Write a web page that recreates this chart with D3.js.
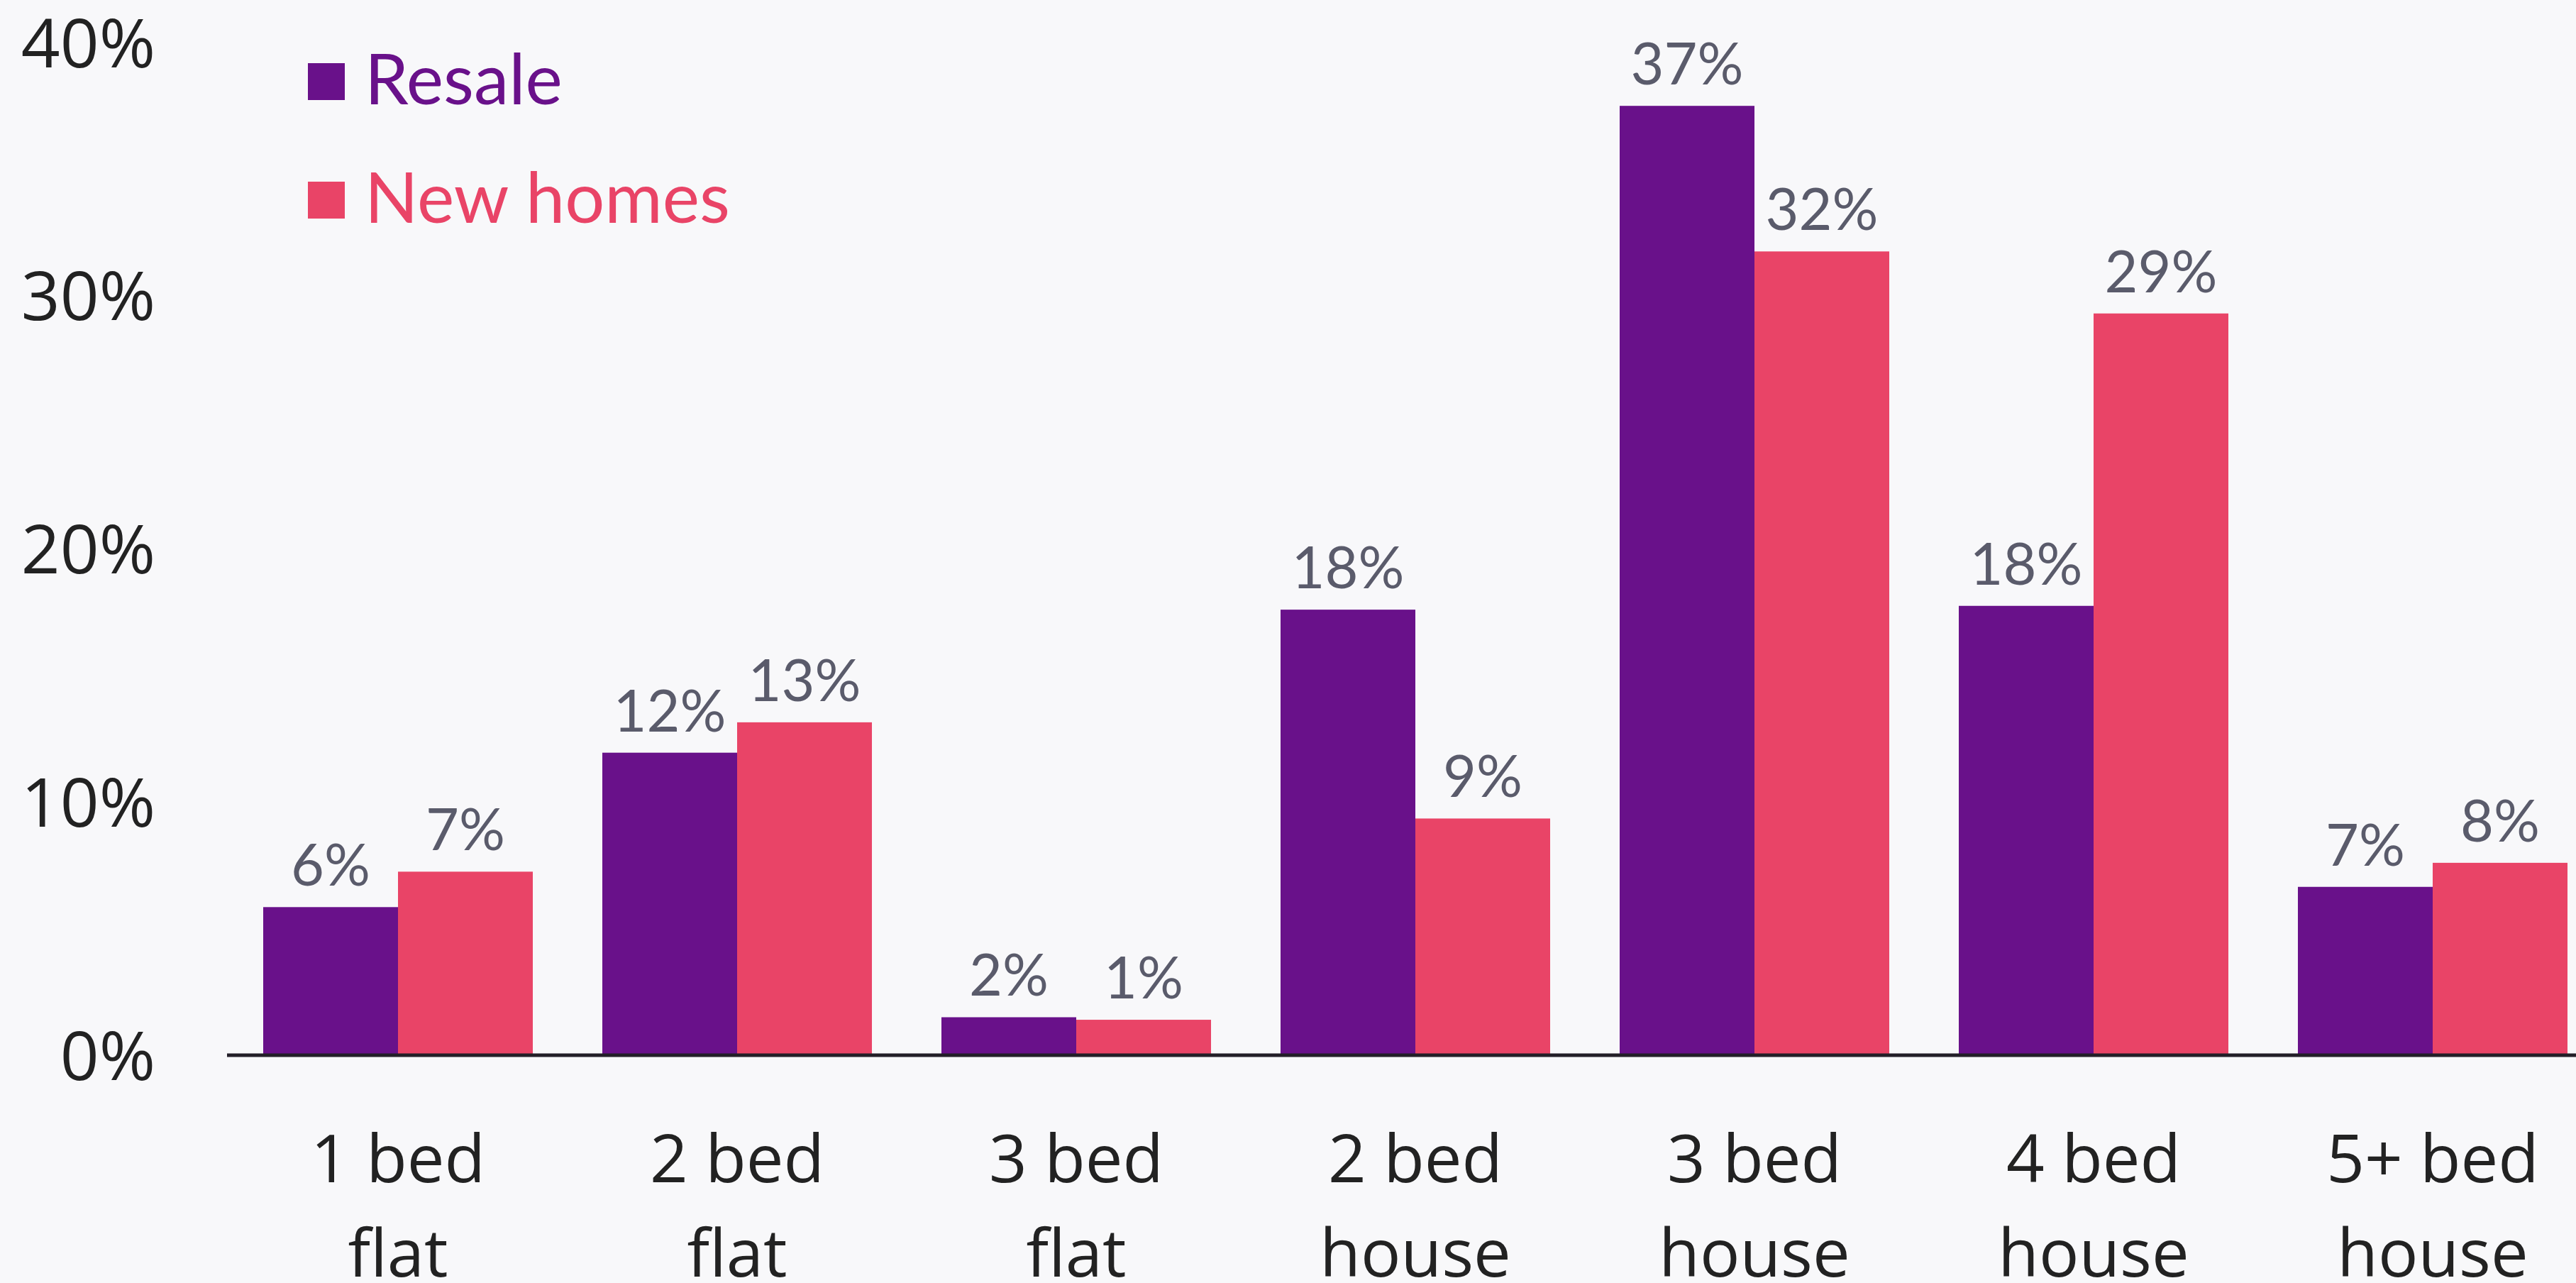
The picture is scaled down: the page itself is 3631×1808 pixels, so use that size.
<!DOCTYPE html>
<html>
<head>
<meta charset="utf-8">
<script src="https://cdn.jsdelivr.net/npm/d3@7"></script>
<style>
  html, body { margin: 0; padding: 0; background: #f8f8fa; }
  svg { display: block; }
  .tick-label { font-family: 'Open Sans', sans-serif; fill: #222; }
  .value-label { font-family: Lato, sans-serif; fill: #5a5b6b; }
  .legend-label { font-family: Lato, sans-serif; }
</style>
</head>
<body>
<div id="chart"></div>
<script>
'use strict';

// categories, two lines each
var categories = [ '1 bed flat', '2 bed flat', '3 bed flat', '2 bed house', '3 bed house', '4 bed house', '5+ bed house' ];
var categoryLines = [
  [ '1 bed', 'flat' ],
  [ '2 bed', 'flat' ],
  [ '3 bed', 'flat' ],
  [ '2 bed', 'house' ],
  [ '3 bed', 'house' ],
  [ '4 bed', 'house' ],
  [ '5+ bed', 'house' ]
];

var seriesNames = [ 'Resale', 'New homes' ];
var resaleValues = [ 5.85, 11.95, 1.5, 17.6, 37.5, 17.75, 6.65 ];
var newHomesValues = [ 7.25, 13.15, 1.4, 9.35, 31.75, 29.3, 7.6 ];
var resaleLabels = [ '6%', '12%', '2%', '18%', '37%', '18%', '7%' ];
var newHomesLabels = [ '7%', '13%', '1%', '9%', '32%', '29%', '8%' ];
var yTicks = [ 0, 10, 20, 30, 40 ];

var colors = { 'Resale': '#69118a', 'New homes': '#e94467' };

var width = 3631,
    height = 1808;

var svg = d3.select( '#chart' )
  .append( 'svg' )
    .attr( 'width', width )
    .attr( 'height', height );

svg.append( 'rect' )
  .attr( 'width', width )
  .attr( 'height', height )
  .attr( 'fill', '#f8f8fa' );

var x = d3.scaleBand()
    .domain( categories )
    .range( [ 371, 3619 ] )
    .paddingInner( 0.205 )
    .paddingOuter( 0 );

var xSeries = d3.scaleBand()
    .domain( seriesNames )
    .range( [ 0, x.bandwidth() ] );

var y = d3.scaleLinear()
    .domain( [ 0, 40 ] )
    .range( [ 1487, 60 ] );

// y tick labels, no axis line
svg.append( 'g' )
  .selectAll( 'text' )
  .data( yTicks )
  .enter()
  .append( 'text' )
    .classed( 'tick-label', true )
    .attr( 'x', 219 )
    .attr( 'y', function( d ) { return y( d ); } )
    .attr( 'dy', '0.36em' )
    .attr( 'text-anchor', 'end' )
    .style( 'font-size', '96px' )
    .text( function( d ) { return d + '%'; } );

// bars
var rows = categories.map( function( c, i ) {
  return [
    { cat: c, set: 'Resale', value: resaleValues[i], label: resaleLabels[i] },
    { cat: c, set: 'New homes', value: newHomesValues[i], label: newHomesLabels[i] }
  ];
} );

var groups = svg.append( 'g' )
  .selectAll( 'g' )
  .data( rows )
  .enter()
  .append( 'g' )
    .attr( 'transform', function( d ) { return 'translate(' + x( d[0].cat ) + ',0)'; } );

groups.selectAll( 'rect' )
  .data( function( d ) { return d; } )
  .enter()
  .append( 'rect' )
    .attr( 'x', function( d ) { return xSeries( d.set ); } )
    .attr( 'width', xSeries.bandwidth() )
    .attr( 'y', function( d ) { return y( d.value ); } )
    .attr( 'height', function( d ) { return y( 0 ) - y( d.value ); } )
    .attr( 'fill', function( d ) { return colors[d.set]; } );

groups.selectAll( 'text' )
  .data( function( d ) { return d; } )
  .enter()
  .append( 'text' )
    .classed( 'value-label', true )
    .attr( 'x', function( d ) { return xSeries( d.set ) + xSeries.bandwidth() / 2; } )
    .attr( 'y', function( d ) { return y( d.value ) - 30; } )
    .attr( 'text-anchor', 'middle' )
    .style( 'font-size', '81px' )
    .text( function( d ) { return d.label; } );

// x axis baseline
var xAxis = svg.append( 'g' )
  .attr( 'transform', 'translate(0,' + y( 0 ) + ')' )
  .call( d3.axisBottom( x ).tickSize( 0 ).tickFormat( '' ) );

xAxis.select( '.domain' )
  .attr( 'd', 'M320,0H' + width )
  .attr( 'stroke', '#231f28' )
  .attr( 'stroke-width', 5 );

// category labels on two lines
xAxis.selectAll( '.tick' )
  .append( 'text' )
    .classed( 'tick-label', true )
    .attr( 'text-anchor', 'middle' )
    .style( 'font-size', '94px' )
    .each( function( d ) {
      var lines = categoryLines[categories.indexOf( d )];
      var t = d3.select( this );
      lines.forEach( function( line, i ) {
        t.append( 'tspan' )
          .attr( 'x', 0 )
          .attr( 'y', 179 + i * 133 )
          .text( line );
      } );
    } );

// legend
var legend = svg.append( 'g' )
  .selectAll( 'g' )
  .data( seriesNames )
  .enter()
  .append( 'g' )
    .attr( 'transform', function( d, i ) { return 'translate(434,' + ( 89 + i * 167 ) + ')'; } );

legend.append( 'rect' )
  .attr( 'width', 52 )
  .attr( 'height', 52 )
  .attr( 'fill', function( d ) { return colors[d]; } );

legend.append( 'text' )
  .classed( 'legend-label', true )
  .attr( 'x', 80 )
  .attr( 'y', 58 )
  .style( 'font-size', '99px' )
  .attr( 'fill', function( d ) { return colors[d]; } )
  .text( function( d ) { return d; } );
</script>
</body>
</html>
